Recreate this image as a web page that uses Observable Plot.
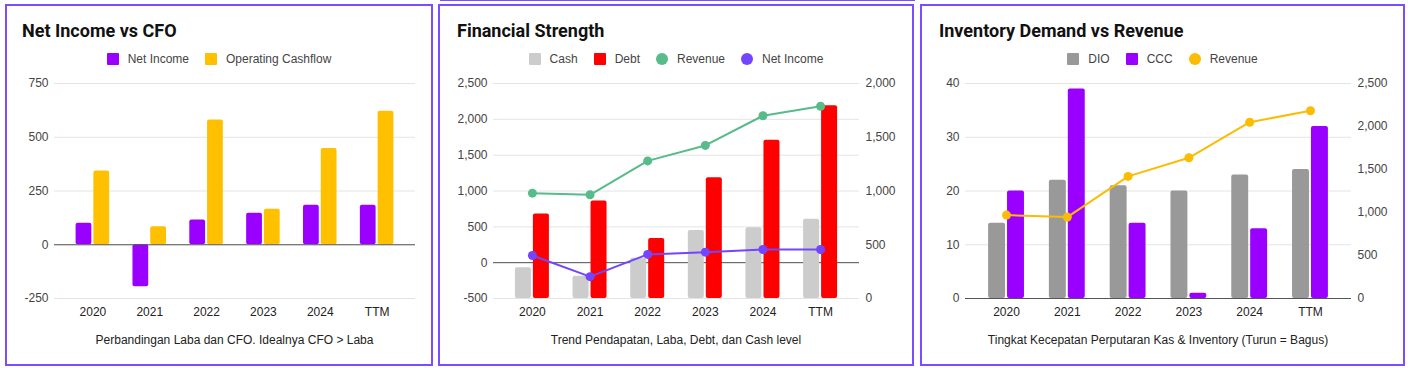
<!DOCTYPE html>
<html><head><meta charset="utf-8">
<script src="https://cdn.jsdelivr.net/npm/d3@7"></script>
<script src="https://cdn.jsdelivr.net/npm/@observablehq/plot@0.6"></script>
<style>
body{margin:0;width:1408px;height:368px;background:#fff;position:relative;overflow:hidden;font-family:"Liberation Sans",Arial,sans-serif;}
.panel{position:absolute;border:2px solid #7c4dff;box-sizing:border-box;}
.topline{position:absolute;left:440px;top:0;width:475px;height:1px;background:#7c4dff;}
.title{position:absolute;font-family:Roboto,sans-serif;font-weight:700;font-size:18px;line-height:18px;color:#111;white-space:nowrap}
.legend{position:absolute;display:flex;justify-content:center;align-items:center;font-size:12px;line-height:12px;color:#444;white-space:nowrap}
.item{display:flex;align-items:center;margin:0 8px}
.sw{width:12px;height:12px;margin-right:9px;border-radius:1px}
.sw.c{border-radius:50%}
.caption{position:absolute;text-align:center;font-size:12px;line-height:12px;color:#222;white-space:nowrap}
.chart{position:absolute}
</style></head><body>
<script>
// ---------- data ----------
const years = ["2020", "2021", "2022", "2023", "2024", "TTM"];

// Panel 1: Net Income vs CFO
const netIncome = [100, -195, 115, 147, 184, 184];
const operatingCashflow = [343, 84, 580, 165, 448, 621];

// Panel 2: Financial Strength (bars on right axis, lines on left axis)
const cash = [287, 206, 375, 632, 657, 738];
const debt = [787, 907, 559, 1123, 1472, 1794];
const revenue = [970, 947, 1420, 1636, 2050, 2183];

// Panel 3: Inventory Demand vs Revenue
const dio = [14, 22, 21, 20, 23, 24];
const ccc = [20, 39, 14, 1, 13, 32];

// ticks
const ticks1 = [-250, 0, 250, 500, 750];
const ticks2Left = [-500, 0, 500, 1000, 1500, 2000, 2500];
const ticks2Right = [0, 500, 1000, 1500, 2000];
const ticks3Left = [0, 10, 20, 30, 40];
const ticks3Right = [0, 500, 1000, 1500, 2000, 2500];

// text
const titles = ["Net Income vs CFO", "Financial Strength", "Inventory Demand vs Revenue"];
const captions = [
  "Perbandingan Laba dan CFO. Idealnya CFO > Laba",
  "Trend Pendapatan, Laba, Debt, dan Cash level",
  "Tingkat Kecepatan Perputaran Kas & Inventory (Turun = Bagus)"
];
const legends = [
  [["Net Income", "#9900ff", false], ["Operating Cashflow", "#ffc000", false]],
  [["Cash", "#cccccc", false], ["Debt", "#ff0000", false], ["Revenue", "#57bb8a", true], ["Net Income", "#7345ff", true]],
  [["DIO", "#999999", false], ["CCC", "#9900ff", false], ["Revenue", "#fbbc04", true]]
];

// ---------- layout ----------
const panels = [
  {left: 5, width: 428, mL: 49, mR: 18, titleX: 17},
  {left: 438, width: 476, mL: 55, mR: 55, titleX: 19},
  {left: 920, width: 485, mL: 45, mR: 54, titleX: 19}
];
const SVG_TOP = 70, SVG_H = 260, M_T = 13, M_B = 32;
const PAD_IN = 0.41, PAD_OUT = 0.38;
function bandwidth(w, n) { const step = w / (n - PAD_IN + 2 * PAD_OUT); return step * (1 - PAD_IN); }
const fmt = d => (d < 0 ? "-" : "") + d3.format(",")(Math.abs(d));
const style = {fontFamily: '"Liberation Sans", Arial, sans-serif', fontSize: "12px", color: "#444", background: "transparent", overflow: "visible"};
const gridStyle = {stroke: "#e4e4e4", strokeOpacity: 1};
const zeroStyle = {stroke: "#555", strokeWidth: 1};
const xScale = {type: "band", domain: years, paddingInner: PAD_IN, paddingOuter: PAD_OUT, round: false};

const topLine = document.createElement("div");
topLine.className = "topline";
document.body.appendChild(topLine);

panels.forEach((p, i) => {
  const box = document.createElement("div");
  box.className = "panel";
  Object.assign(box.style, {left: p.left + "px", top: "4px", width: p.width + "px", height: "362px"});
  document.body.appendChild(box);

  const t = document.createElement("div");
  t.className = "title";
  t.textContent = titles[i];
  Object.assign(t.style, {left: (p.left + p.titleX) + "px", top: "22px"});
  document.body.appendChild(t);

  const lg = document.createElement("div");
  lg.className = "legend";
  Object.assign(lg.style, {left: p.left + "px", width: p.width + "px", top: "53px"});
  legends[i].forEach(([name, color, circle]) => {
    const it = document.createElement("div");
    it.className = "item";
    const sw = document.createElement("span");
    sw.className = "sw" + (circle ? " c" : "");
    sw.style.background = color;
    const tx = document.createElement("span");
    tx.textContent = name;
    it.appendChild(sw); it.appendChild(tx);
    lg.appendChild(it);
  });
  document.body.appendChild(lg);

  const cap = document.createElement("div");
  cap.className = "caption";
  const plotL = p.left + p.mL, plotR = p.left + p.width - p.mR;
  Object.assign(cap.style, {left: plotL + "px", width: (plotR - plotL) + "px", top: "334px"});
  cap.textContent = captions[i];
  document.body.appendChild(cap);
});

function place(svg, p) {
  const d = document.createElement("div");
  d.className = "chart";
  Object.assign(d.style, {left: p.left + "px", top: SVG_TOP + "px", width: p.width + "px", height: SVG_H + "px"});
  d.appendChild(svg);
  document.body.appendChild(d);
}

// ---------- Panel 1 ----------
{
  const p = panels[0];
  const rows = years.map((year, i) => ({year, ni: netIncome[i], cfo: operatingCashflow[i]}));
  const bw = bandwidth(p.width - p.mL - p.mR, years.length);
  place(Plot.plot({
    width: p.width, height: SVG_H, marginLeft: p.mL, marginRight: p.mR, marginTop: M_T, marginBottom: M_B,
    style,
    x: xScale,
    y: {domain: [-250, 750]},
    marks: [
      Plot.gridY(ticks1, gridStyle),
      Plot.barY(rows, {x: "year", y: "ni", fill: "#9900ff", insetRight: bw / 2 + 1, rx: 2}),
      Plot.barY(rows, {x: "year", y: "cfo", fill: "#ffc000", insetLeft: bw / 2 + 1, rx: 2}),
      Plot.ruleY([0], zeroStyle),
      Plot.axisX({tickSize: 0, tickPadding: 9, label: null, color: "#222"}),
      Plot.axisY(ticks1, {tickSize: 0, tickPadding: 6, tickFormat: fmt, label: null})
    ]
  }), p);
}

// ---------- Panel 2 ----------
{
  const p = panels[1];
  const right = d3.scaleLinear([0, 2000], [-500, 2500]); // right axis -> left axis units
  const rows = years.map((year, i) => ({year, cash: cash[i], debt: debt[i], rev: revenue[i], ni: netIncome[i]}));
  const bw = bandwidth(p.width - p.mL - p.mR, years.length);
  place(Plot.plot({
    width: p.width, height: SVG_H, marginLeft: p.mL, marginRight: p.mR, marginTop: M_T, marginBottom: M_B,
    style,
    x: xScale,
    y: {domain: [-500, 2500]},
    marks: [
      Plot.gridY(ticks2Left, gridStyle),
      Plot.ruleY([0], zeroStyle),
      Plot.barY(rows, {x: "year", y1: () => right(0), y2: d => right(d.cash), fill: "#cccccc", insetRight: bw / 2 + 1, rx: 2}),
      Plot.barY(rows, {x: "year", y1: () => right(0), y2: d => right(d.debt), fill: "#ff0000", insetLeft: bw / 2 + 1, rx: 2}),
      Plot.line(rows, {x: "year", y: "rev", stroke: "#57bb8a", strokeWidth: 2}),
      Plot.dot(rows, {x: "year", y: "rev", fill: "#57bb8a", r: 4.5}),
      Plot.line(rows, {x: "year", y: "ni", stroke: "#7345ff", strokeWidth: 2}),
      Plot.dot(rows, {x: "year", y: "ni", fill: "#7345ff", r: 4.5}),
      Plot.axisX({tickSize: 0, tickPadding: 9, label: null, color: "#222"}),
      Plot.axisY(ticks2Left, {tickSize: 0, tickPadding: 6, tickFormat: fmt, label: null}),
      Plot.axisY(ticks2Right.map(v => right(v)), {anchor: "right", tickSize: 0, tickPadding: 6, tickFormat: d => fmt(Math.round(right.invert(d))), label: null})
    ]
  }), p);
}

// ---------- Panel 3 ----------
{
  const p = panels[2];
  const right = d3.scaleLinear([0, 2500], [0, 40]);
  const rows = years.map((year, i) => ({year, dio: dio[i], ccc: ccc[i], rev: revenue[i]}));
  const bw = bandwidth(p.width - p.mL - p.mR, years.length);
  place(Plot.plot({
    width: p.width, height: SVG_H, marginLeft: p.mL, marginRight: p.mR, marginTop: M_T, marginBottom: M_B,
    style,
    x: xScale,
    y: {domain: [0, 40]},
    marks: [
      Plot.gridY(ticks3Left, gridStyle),
      Plot.barY(rows, {x: "year", y: "dio", fill: "#999999", insetRight: bw / 2 + 1, rx: 2}),
      Plot.barY(rows, {x: "year", y: "ccc", fill: "#9900ff", insetLeft: bw / 2 + 1, rx: 2}),
      Plot.ruleY([0], zeroStyle),
      Plot.line(rows, {x: "year", y: d => right(d.rev), stroke: "#fbbc04", strokeWidth: 2}),
      Plot.dot(rows, {x: "year", y: d => right(d.rev), fill: "#fbbc04", r: 4.5}),
      Plot.axisX({tickSize: 0, tickPadding: 9, label: null, color: "#222"}),
      Plot.axisY(ticks3Left, {tickSize: 0, tickPadding: 6, tickFormat: fmt, label: null}),
      Plot.axisY(ticks3Right.map(v => right(v)), {anchor: "right", tickSize: 0, tickPadding: 6, tickFormat: d => fmt(Math.round(right.invert(d))), label: null})
    ]
  }), p);
}
</script>
</body></html>
